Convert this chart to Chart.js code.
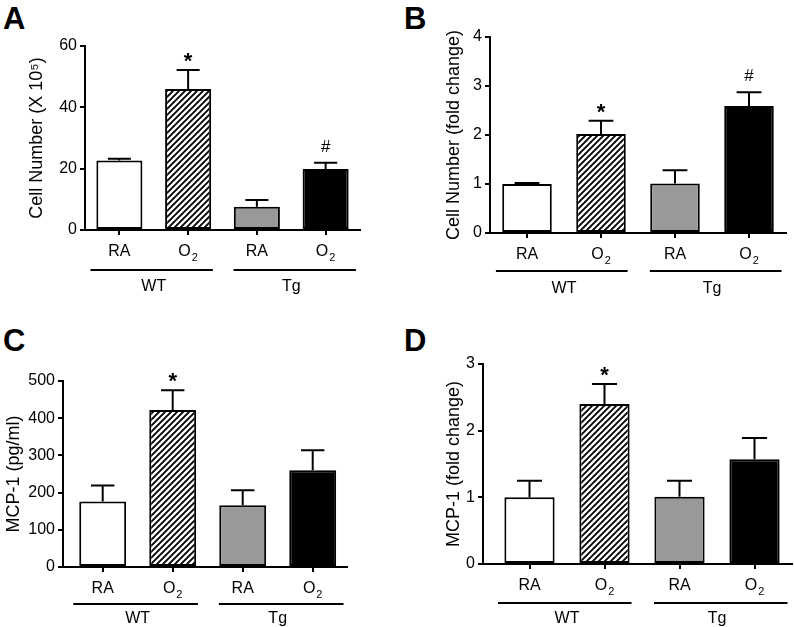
<!DOCTYPE html>
<html>
<head>
<meta charset="utf-8">
<script src="https://cdn.jsdelivr.net/npm/chart.js@4.4.1/dist/chart.umd.min.js"></script>
<style>
  html, body { margin: 0; padding: 0; background: #fff; }
  body { width: 794px; height: 627px; position: relative; overflow: hidden; font-family: "Liberation Sans", Arial, sans-serif; }
  canvas { position: absolute; }
  .letter { position: absolute; font-weight: bold; font-size: 31px; line-height: 1; color: #000; }
</style>
</head>
<body>
<div class="letter" style="left:3px;top:3px">A</div>
<div class="letter" style="left:404px;top:3px">B</div>
<div class="letter" style="left:3px;top:325px">C</div>
<div class="letter" style="left:404px;top:325px">D</div>

<canvas id="chartA" width="397" height="313" style="left:0;top:0"></canvas>
<canvas id="chartB" width="397" height="313" style="left:397px;top:0"></canvas>
<canvas id="chartC" width="397" height="314" style="left:0;top:313px"></canvas>
<canvas id="chartD" width="397" height="314" style="left:397px;top:313px"></canvas>

<script>
// categorias (O2 com subscrito desenhado à parte)
const xLabels = ['RA', 'O2', 'RA', 'O2'];
const groupLabels = ['WT', 'Tg'];

// A - número de células
const cellNum = [22.7, 46.0, 7.6, 19.9];
const cellNumErr = [0.5, 6.2, 2.2, 2.0];
const cellNumSig = ['', '*', '', '#'];

// B - células (fold change)
const cellFold = [1.0, 2.02, 1.01, 2.59];
const cellFoldErr = [0.02, 0.27, 0.27, 0.28];
const cellFoldSig = ['', '*', '', '#'];

// C - MCP-1
const mcp = [176, 422, 166, 260];
const mcpErr = [43, 53, 40, 54];
const mcpSig = ['', '*', '', ''];

// D - MCP-1 (fold change)
const mcpFold = [1.0, 2.40, 1.01, 1.57];
const mcpFoldErr = [0.25, 0.30, 0.24, 0.32];
const mcpFoldSig = ['', '*', '', ''];

// eixos Y
const yTicksA = [0, 20, 40, 60];
const yTicksB = [0, 1, 2, 3, 4];
const yTicksC = [0, 100, 200, 300, 400, 500];
const yTicksD = [0, 1, 2, 3];

const FONT = '"Liberation Sans", Arial, sans-serif';
Chart.defaults.font.family = FONT;
Chart.defaults.color = '#000';

// listras diagonais da barra O2 WT
function makeHatch() {
  const c = document.createElement('canvas');
  c.width = 6; c.height = 6;
  const g = c.getContext('2d');
  g.fillStyle = '#fff';
  g.fillRect(0, 0, 6, 6);
  g.strokeStyle = '#000';
  g.lineWidth = 1.9;
  g.beginPath();
  g.moveTo(-1, 7); g.lineTo(7, -1);
  g.moveTo(-1, 1); g.lineTo(1, -1);
  g.moveTo(5, 7); g.lineTo(7, 5);
  g.stroke();
  return document.createElement('canvas').getContext('2d').createPattern(c, 'repeat');
}
const hatch = makeHatch();

// barras de erro + marcas de significância
const errorBars = {
  id: 'errorBars',
  afterDatasetsDraw(chart, args, opts) {
    const { ctx } = chart;
    const y = chart.scales.y;
    const meta = chart.getDatasetMeta(0);
    const vals = chart.data.datasets[0].data;
    ctx.save();
    ctx.strokeStyle = '#000';
    ctx.fillStyle = '#000';
    ctx.lineWidth = 2;
    meta.data.forEach((bar, i) => {
      const top = y.getPixelForValue(vals[i].y + opts.err[i]);
      const half = bar.width / 4;
      ctx.beginPath();
      ctx.moveTo(bar.x, bar.y);
      ctx.lineTo(bar.x, top);
      ctx.moveTo(bar.x - half, top);
      ctx.lineTo(bar.x + half, top);
      ctx.stroke();
      const m = opts.sig[i];
      if (m) {
        ctx.textAlign = 'center';
        ctx.textBaseline = 'alphabetic';
        ctx.font = m === '*' ? 'bold 22px ' + FONT : '17px ' + FONT;
        ctx.fillText(m, bar.x, top - (m === '*' ? 2 : 11));
      }
    });
    ctx.restore();
  }
};

// rótulos do eixo X (O com 2 subscrito) e linhas de grupo WT / Tg
const groupLines = {
  id: 'groupLines',
  afterDraw(chart, args, opts) {
    const { ctx, chartArea } = chart;
    const x = chart.scales.x;
    ctx.save();
    ctx.strokeStyle = '#000';
    ctx.fillStyle = '#000';
    ctx.textBaseline = 'middle';

    // rótulos das categorias
    const ly = chartArea.bottom + opts.labelGap;
    xLabels.forEach((lab, i) => {
      const cx = x.getPixelForValue(i);
      if (lab === 'O2') {
        ctx.font = '16px ' + FONT;
        const wO = ctx.measureText('O').width;
        ctx.font = '11px ' + FONT;
        const w2 = ctx.measureText('2').width;
        const x0 = cx - (wO + w2 + 1) / 2;
        ctx.textAlign = 'left';
        ctx.font = '16px ' + FONT;
        ctx.fillText('O', x0, ly);
        ctx.font = '11px ' + FONT;
        ctx.fillText('2', x0 + wO + 1, ly + 6);
      } else {
        ctx.textAlign = 'center';
        ctx.font = '16px ' + FONT;
        ctx.fillText(lab, cx, ly);
      }
    });

    // grupos
    ctx.lineWidth = 1.8;
    ctx.font = '16px ' + FONT;
    ctx.textAlign = 'center';
    groupLabels.forEach((g, k) => {
      const [a, b] = opts.spans[k];
      const gy = chartArea.bottom + opts.lineGap;
      ctx.beginPath();
      ctx.moveTo(x.getPixelForValue(a), gy);
      ctx.lineTo(x.getPixelForValue(b), gy);
      ctx.stroke();
      ctx.fillText(g, x.getPixelForValue(k * 2 + 0.5), chartArea.bottom + opts.textGap);
    });
    ctx.restore();
  }
};

function makeChart(id, values, errors, marks, yTicks, yTitle, lay) {
  return new Chart(document.getElementById(id), {
    type: 'bar',
    data: {
      datasets: [{
        data: values.map((v, i) => ({ x: i, y: v })),
        backgroundColor: ['#ffffff', hatch, '#999999', '#000000'],
        borderColor: '#000',
        borderWidth: 2,
        borderSkipped: false,
        barPercentage: 0.67,
        categoryPercentage: 1
      }]
    },
    options: {
      responsive: false,
      animation: false,
      events: [],
      layout: { padding: lay.pad },
      plugins: {
        legend: { display: false },
        tooltip: { enabled: false },
        errorBars: { err: errors, sig: marks },
        groupLines: { spans: [[-0.42, 1.36], [1.66, 3.44]], labelGap: 22, lineGap: lay.lineGap, textGap: lay.textGap }
      },
      scales: {
        x: {
          type: 'linear',
          min: lay.xMin,
          max: lay.xMax,
          bounds: 'data',
          offset: false,
          afterBuildTicks: s => { s.ticks = xLabels.map((_, i) => ({ value: i })); },
          afterFit: s => { s.height = 60; },
          ticks: { display: false },
          grid: { drawOnChartArea: false, drawTicks: true, tickLength: 5, color: '#000', lineWidth: 2, offset: false },
          border: { color: '#000', width: 2 }
        },
        y: {
          min: yTicks[0],
          max: yTicks[yTicks.length - 1],
          afterFit: s => { s.width = lay.yWidth; },
          afterBuildTicks: s => { s.ticks = yTicks.map(v => ({ value: v })); },
          ticks: { font: { size: 16 }, color: '#000', padding: 3 },
          grid: { drawOnChartArea: false, tickLength: 5, color: '#000', lineWidth: 2 },
          border: { color: '#000', width: 2 },
          title: {
            display: true,
            text: yTitle,
            font: { size: 18 },
            color: '#000',
            padding: { top: lay.titlePad, bottom: 0 }
          }
        }
      }
    },
    plugins: [errorBars, groupLines]
  });
}

makeChart('chartA', cellNum, cellNumErr, cellNumSig, yTicksA, 'Cell Number (X 10⁵)',
  { pad: { left: 0, top: 46, right: 37, bottom: 23 }, yWidth: 85, titlePad: 26, xMin: -0.5, xMax: 3.5, lineGap: 40, textGap: 57 });

makeChart('chartB', cellFold, cellFoldErr, cellFoldSig, yTicksB, 'Cell Number (fold change)',
  { pad: { left: 0, top: 37, right: 8, bottom: 20 }, yWidth: 93, titlePad: 46, xMin: -0.5, xMax: 3.5, lineGap: 38, textGap: 56 });

makeChart('chartC', mcp, mcpErr, mcpSig, yTicksC, 'MCP-1 (pg/ml)',
  { pad: { left: 0, top: 68, right: 50, bottom: 0 }, yWidth: 63, titlePad: 3, xMin: -0.567, xMax: 3.49, lineGap: 37, textGap: 52 });

makeChart('chartD', mcpFold, mcpFoldErr, mcpFoldSig, yTicksD, 'MCP-1 (fold change)',
  { pad: { left: 0, top: 51, right: 2, bottom: 3 }, yWidth: 86, titlePad: 46, xMin: -0.62, xMax: 3.5, lineGap: 39, textGap: 55 });
</script>
</body>
</html>
